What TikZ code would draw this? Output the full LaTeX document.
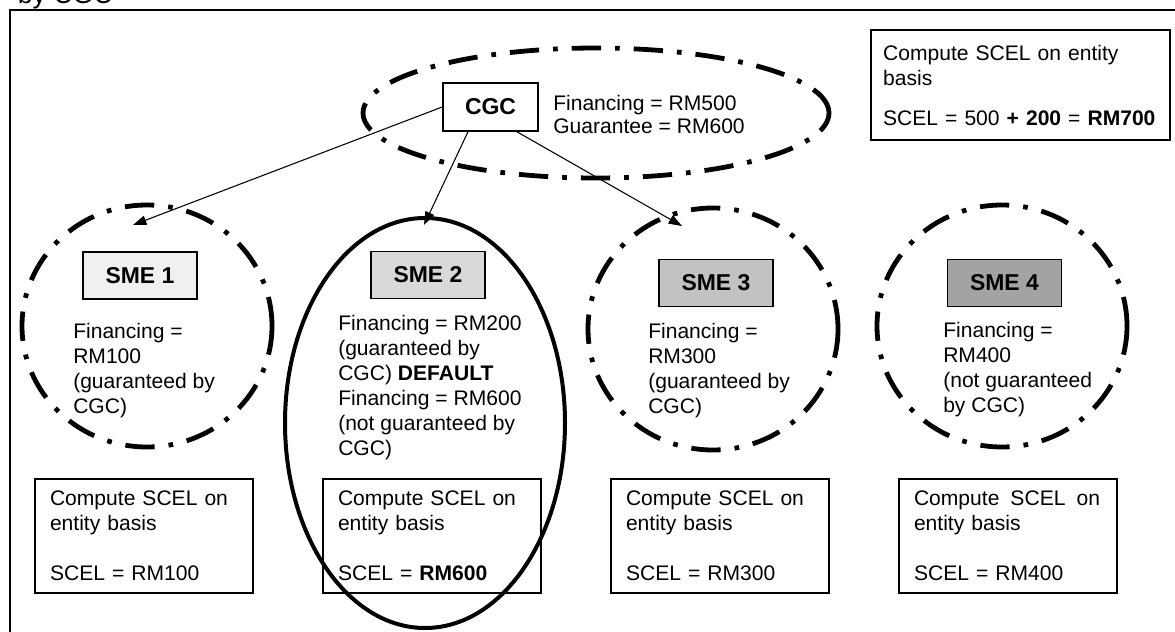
\documentclass[tikz,border=0pt]{standalone}
\usepackage{fontspec}
\setmainfont{Liberation Sans}
\usetikzlibrary{shapes.geometric,arrows.meta,calc}

\begin{document}
\begin{tikzpicture}[x=0.75pt,y=-0.75pt,
	body_font/.style={font=\fontsize{15.8}{18.75}\selectfont},
	name_box/.style={rectangle,draw,line width=1.2pt,minimum width=85.5pt,minimum height=35.25pt,inner sep=0pt,font=\fontsize{17.2}{20}\selectfont\bfseries},
	ring/.style={ellipse,draw,line width=3.6pt,inner sep=0pt,dash pattern=on 22pt off 10.5pt on 3.5pt off 10.5pt,minimum width=187.5pt,minimum height=181.5pt},
	calc_box/.style={rectangle,draw,line width=1.2pt,body_font,align=left,text width=141pt,inner xsep=11.25pt,minimum height=85.5pt},
	info_text/.style={body_font,align=left,anchor=north west,inner sep=0pt},
	link/.style={line width=0.8pt,-{Triangle[length=10pt,width=7pt]}}]

	\useasboundingbox (0,0) rectangle (1175,632);

	% frame and the cut title above it
	\draw[line width=1.2pt] (10,632) -- (10,10) -- (1175,10);
	\node[font=\fontsize{20}{24}\selectfont,anchor=base east,inner sep=0pt] (title) at (113,3) {by CGC};

	% CGC on top
	\node[ring,minimum width=349.5pt,minimum height=97.5pt] (ring_0) at (596,113) {};
	\node[name_box,minimum width=71.25pt,minimum height=36pt,fill=white] (cgc) at (490.5,107) {CGC};
	\node[info_text,font=\fontsize{15.8}{17.25}\selectfont] (cgc_text) at (553,95) {Financing = RM500\\Guarantee = RM600};

	\node[calc_box,text width=206pt,inner xsep=9pt,minimum height=82.5pt] (calc_0) at (1020.5,85)
		{Compute SCEL on entity\\basis\\[11.25pt]SCEL = 500 \textbf{+ 200} = \textbf{RM700}};

	% the four SMEs
	\node[ring] (ring_1) at (147,326) {};
	\node[ring] (ring_3) at (713,329) {};
	\node[ring] (ring_4) at (1002,326) {};

	\node[name_box,fill=black!6] (sme_1) at (140,275.5) {SME 1};
	\node[name_box,fill=black!15] (sme_2) at (428,275) {SME 2};
	\node[name_box,fill=black!24] (sme_3) at (716,283) {SME 3};
	\node[name_box,fill=black!36] (sme_4) at (1004.5,283) {SME 4};

	\node[info_text] (text_1) at (73,323) {Financing =\\RM100\\(guaranteed by\\CGC)};
	\node[info_text] (text_2) at (338,315) {Financing = RM200\\(guaranteed by\\CGC) \textbf{DEFAULT}\\Financing = RM600\\(not guaranteed by\\CGC)};
	\node[info_text] (text_3) at (648,323) {Financing =\\RM300\\(guaranteed by\\CGC)};
	\node[info_text] (text_4) at (943,322) {Financing =\\RM400\\(not guaranteed\\by CGC)};

	% SCEL per entity
	\node[calc_box] (calc_1) at (144,536) {Compute SCEL on\\entity basis\\[19pt]SCEL = RM100};
	\node[calc_box] (calc_2) at (432,536) {Compute SCEL on\\entity basis\\[19pt]SCEL = \textbf{RM600}};
	\node[calc_box] (calc_3) at (720,536) {Compute SCEL on\\entity basis\\[19pt]SCEL = RM300};
	\node[calc_box] (calc_4) at (1008,536) {Compute\hspace{3pt} SCEL\hspace{3pt} on\\entity basis\\[19pt]SCEL = RM400};

	% the defaulting SME
	\node[ring,solid,line width=3pt,minimum width=210pt,minimum height=307.5pt] (ring_2) at (425,423) {};

	\coordinate (tip_1) at (133,225);
	\coordinate (tip_2) at (424,225);
	\coordinate (tip_3) at (682,226);

	\draw[link] (cgc.west) -- (tip_1);
	\draw[link] ($(cgc.south)+(-22.5,0)$) -- (tip_2);
	\draw[link] ($(cgc.south)+(26.5,0)$) -- (tip_3);

\end{tikzpicture}
\end{document}
